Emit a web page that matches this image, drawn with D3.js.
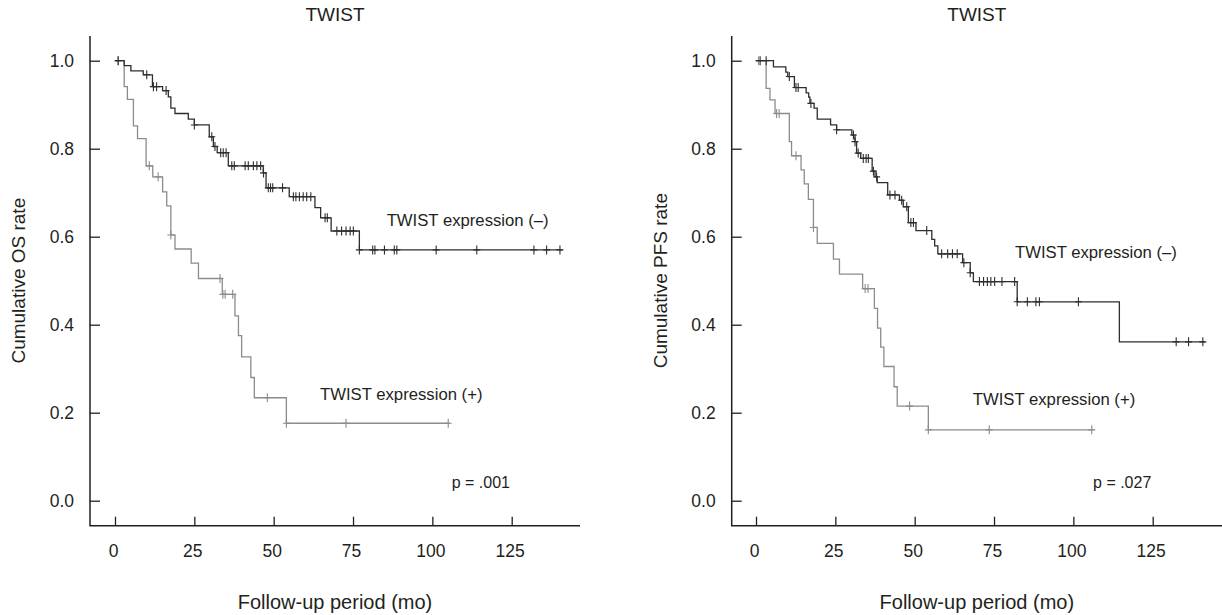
<!DOCTYPE html>
<html>
<head>
<meta charset="utf-8">
<script src="https://cdn.jsdelivr.net/npm/d3@7"></script>
<style>
  body { margin: 0; background: #fff; }
  svg { display: block; font-family: "Liberation Sans", Arial, sans-serif; }
</style>
</head>
<body>
<svg id="chart" width="1222" height="615"></svg>
<script>
// x ticks (months) and y ticks (cumulative rate)
const xTicks = [0, 25, 50, 75, 100, 125]
const yTicks = [0, 0.2, 0.4, 0.6, 0.8, 1.0]

// OS, TWIST expression (-) : [month, survival] step points
const osNegSteps = [[0, 1], [2.9, 0.989], [5.0, 0.977], [8.9, 0.968], [11.8, 0.941], [15, 0.932],
  [16.8, 0.918], [17.6, 0.892], [18.9, 0.880], [23.1, 0.867], [25, 0.854], [29.7, 0.827],
  [31, 0.805], [32.2, 0.791], [35.7, 0.761], [46.7, 0.745], [47.6, 0.711], [54.9, 0.691],
  [63, 0.666], [64.8, 0.643], [68.1, 0.613], [77, 0.570]]
const osNegEnd = 141
const osNegCensor = [1, 10, 12.1, 13.1, 16.1, 25, 30.5, 31.5, 33.3, 34.1, 35, 36.8, 37.6, 41, 42,
  43.6, 44.7, 45.9, 46.8, 48.3, 49, 49.7, 52.8, 56.2, 57, 58.1, 59.3, 60.4, 61.7, 66.2, 66.9,
  69.9, 71.4, 72.8, 74.1, 75.1, 77, 81.2, 81.9, 84.9, 88, 88.8, 101.2, 114, 132, 136, 140.2]

// OS, TWIST expression (+)
const osPosSteps = [[0, 1], [2.9, 0.941], [3.9, 0.912], [5.8, 0.852], [7.1, 0.823], [9.8, 0.761],
  [11.9, 0.736], [15, 0.702], [16.3, 0.670], [17.6, 0.604], [18.9, 0.572], [24, 0.54],
  [26.3, 0.505], [33.8, 0.469], [37.8, 0.42], [38.9, 0.375], [39.9, 0.327], [42.8, 0.28],
  [43.9, 0.234], [54, 0.176]]
const osPosEnd = 105.5
const osPosCensor = [1, 10.8, 13.6, 17.6, 33.1, 34.0, 34.7, 37.1, 48, 54, 72.8, 105]

// PFS, TWIST expression (-)
const pfsNegSteps = [[0, 1], [5.5, 0.986], [9.4, 0.974], [10, 0.964], [12.1, 0.939], [15.8, 0.927],
  [16.6, 0.917], [17, 0.903], [18.3, 0.892], [19.3, 0.867], [23.5, 0.854], [25.4, 0.843],
  [30.2, 0.831], [31.2, 0.816], [31.7, 0.79], [33, 0.778], [36.6, 0.749], [37.5, 0.736],
  [38.2, 0.723], [41.5, 0.695], [45.2, 0.683], [46.4, 0.668], [48, 0.632], [50.4, 0.614],
  [55.4, 0.594], [56.3, 0.579], [57.3, 0.561], [65.1, 0.541], [67.5, 0.518], [68.5, 0.498],
  [82.3, 0.452], [114.5, 0.361]]
const pfsNegEnd = 141.5
const pfsNegCensor = [1.3, 3.2, 10.5, 12.6, 13.3, 17.3, 25.4, 30.7, 31.2, 32.2, 33.8, 34.7, 35.4,
  37, 38, 42.2, 43.8, 45.9, 47.5, 48.8, 49.6, 53.8, 58.5, 60.4, 61.9, 63.4, 65.5, 67.5, 70.4,
  71.7, 72.9, 74, 75.2, 77.5, 81.5, 82.3, 85.5, 88.2, 89.3, 101.6, 132.4, 136.3, 140.8]

// PFS, TWIST expression (+)
const pfsPosSteps = [[0, 1], [3.2, 0.937], [4.4, 0.911], [6, 0.880], [10.5, 0.816], [11.2, 0.784],
  [14.2, 0.752], [15.2, 0.72], [16.5, 0.685], [18.1, 0.621], [19.3, 0.585], [24.4, 0.549],
  [26.3, 0.515], [33.6, 0.482], [37.3, 0.437], [38.3, 0.392], [39.3, 0.349], [40.3, 0.305],
  [43.5, 0.259], [44.5, 0.215], [54.3, 0.161]]
const pfsPosEnd = 106.3
const pfsPosCensor = [0.8, 6.5, 7.3, 12.6, 18.1, 34.4, 35.3, 48.4, 54.3, 73.5, 105.8]

const textColor = '#231f20'
const negColor = '#2e2e2e'
const posColor = '#8c8c8c'

const panels = [
  {
    axisX: 90, x0: 115, right: 580, yLabel: 'Cumulative OS rate', yLabelX: 18, p: 'p = .001',
    curves: [
      {steps: osPosSteps, end: osPosEnd, censor: osPosCensor, color: posColor},
      {steps: osNegSteps, end: osNegEnd, censor: osNegCensor, color: negColor}
    ],
    labels: [
      {text: 'TWIST expression (\u2013)', m: 85.6, s: 0.624},
      {text: 'TWIST expression (+)', m: 64.6, s: 0.229}
    ],
    pPos: {m: 106.1, s: 0.03}
  },
  {
    axisX: 731.7, x0: 756, right: 1222, yLabel: 'Cumulative PFS rate', yLabelX: 660, p: 'p = .027',
    curves: [
      {steps: pfsPosSteps, end: pfsPosEnd, censor: pfsPosCensor, color: posColor},
      {steps: pfsNegSteps, end: pfsNegEnd, censor: pfsNegCensor, color: negColor}
    ],
    labels: [
      {text: 'TWIST expression (\u2013)', m: 81.6, s: 0.552},
      {text: 'TWIST expression (+)', m: 68.3, s: 0.218}
    ],
    pPos: {m: 106.2, s: 0.03}
  }
]

const svg = d3.select('#chart')
const yTop = 60.7, yBottom = 500.7, axisY = 525.7, axisTop = 36
const monthsSpan = 396.7   // pixel width of 125 months

panels.forEach(drawPanel)

function drawPanel(panel) {
  const x = d3.scaleLinear().domain([0, 125]).range([panel.x0, panel.x0 + monthsSpan])
  const y = d3.scaleLinear().domain([0, 1]).range([yBottom, yTop])
  const g = svg.append('g')

  // title
  g.append('text')
      .text('TWIST')
      .attr('x', (panel.axisX + panel.right) / 2)
      .attr('y', 21)
      .attr('text-anchor', 'middle')
      .attr('font-size', 19)
      .attr('fill', textColor)

  // axes
  const xAxis = g.append('g')
      .attr('transform', `translate(0, ${axisY})`)
      .call(d3.axisBottom(x).tickValues(xTicks).tickSizeInner(-9).tickSizeOuter(0).tickPadding(19))
  const yAxis = g.append('g')
      .attr('transform', `translate(${panel.axisX}, 0)`)
      .call(d3.axisLeft(y).tickValues(yTicks).tickFormat(d3.format('.1f'))
          .tickSizeInner(-10).tickSizeOuter(0).tickPadding(16))
  ;[xAxis, yAxis].forEach(a => {
    a.select('.domain').remove()
    a.selectAll('line').attr('stroke', textColor).attr('stroke-width', 1.3)
    a.selectAll('text').attr('fill', textColor).attr('font-size', 17.5)
        .attr('font-family', '"Liberation Sans", Arial, sans-serif')
  })
  xAxis.selectAll('text').attr('dx', -2)
  g.append('path')
      .attr('d', `M${panel.axisX},${axisTop}V${axisY}H${panel.right}`)
      .attr('fill', 'none')
      .attr('stroke', textColor)
      .attr('stroke-width', 1.5)

  // axis titles
  g.append('text')
      .text('Follow-up period (mo)')
      .attr('x', (panel.axisX + panel.right) / 2)
      .attr('y', 609)
      .attr('text-anchor', 'middle')
      .attr('font-size', 20)
      .attr('fill', textColor)
  g.append('text')
      .text(panel.yLabel)
      .attr('transform', `translate(${panel.yLabelX + 7}, ${(yTop + yBottom) / 2}) rotate(-90)`)
      .attr('text-anchor', 'middle')
      .attr('font-size', 19)
      .attr('fill', textColor)

  // survival curves
  const line = d3.line().x(d => x(d[0])).y(d => y(d[1])).curve(d3.curveStepAfter)
  panel.curves.forEach(c => {
    const pts = c.steps.concat([[c.end, c.steps[c.steps.length - 1][1]]])
    g.append('path')
        .attr('d', line(pts))
        .attr('fill', 'none')
        .attr('stroke', c.color)
        .attr('stroke-width', 1.3)

    const survAt = t => c.steps.filter(s => s[0] <= t).pop()[1]
    g.append('g').selectAll('path')
        .data(c.censor)
        .join('path')
        .attr('d', t => `M${x(t)},${y(survAt(t)) - 4.5}v9M${x(t) - 3.5},${y(survAt(t))}h7`)
        .attr('stroke', c.color)
        .attr('stroke-width', 1.1)
  })

  // group labels and p value
  panel.labels.forEach(l => {
    g.append('text')
        .text(l.text)
        .attr('x', x(l.m))
        .attr('y', y(l.s))
        .attr('font-size', 16.7)
        .attr('fill', textColor)
  })
  g.append('text')
      .text(panel.p)
      .attr('x', x(panel.pPos.m))
      .attr('y', y(panel.pPos.s))
      .attr('font-size', 16)
      .attr('fill', textColor)
}
</script>
</body>
</html>
